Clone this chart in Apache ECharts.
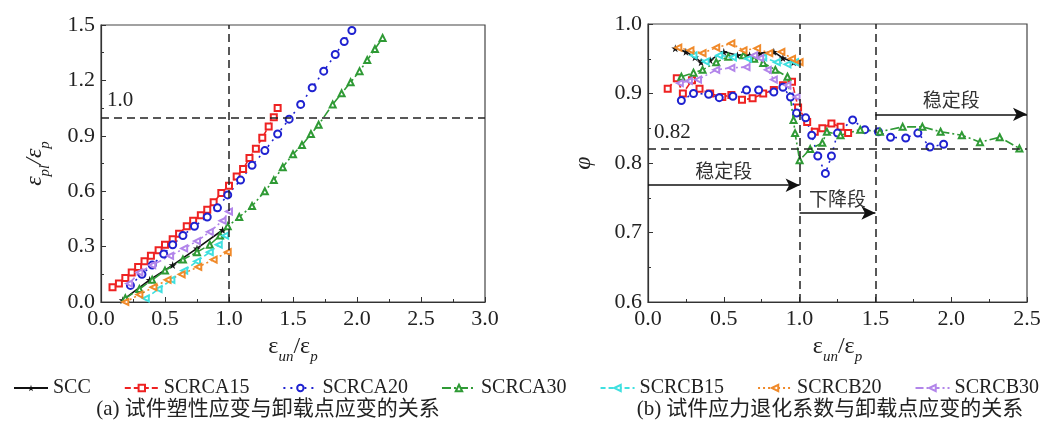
<!DOCTYPE html>
<html>
<head>
<meta charset="utf-8">
<script src="https://cdn.jsdelivr.net/npm/echarts@6/dist/echarts.min.js"></script>
<style>
  html, body { margin: 0; padding: 0; background: #fff; }
  #chart { width: 1051px; height: 430px; }
</style>
</head>
<body>
<div id="chart"></div>
<script>
// series names (legend order)
const names = ['SCC', 'SCRCA15', 'SCRCA20', 'SCRCA30', 'SCRCB15', 'SCRCB20', 'SCRCB30']

// (a) plastic strain vs unloading strain  [eun/ep, epl/ep]
const sccA = [[0.17, 0.01], [0.38, 0.12], [0.56, 0.20], [0.75, 0.29], [0.95, 0.39]]
const scrca15A = [[0.09, 0.08], [0.14, 0.10], [0.19, 0.13], [0.24, 0.16], [0.29, 0.19], [0.34, 0.22], [0.39, 0.25], [0.45, 0.28], [0.50, 0.31], [0.56, 0.34], [0.61, 0.37], [0.67, 0.41], [0.72, 0.44], [0.78, 0.47], [0.83, 0.50], [0.88, 0.54], [0.94, 0.59], [1.00, 0.63], [1.06, 0.68], [1.11, 0.72], [1.16, 0.78], [1.21, 0.83], [1.26, 0.89], [1.31, 0.95], [1.35, 1.00], [1.38, 1.05]]
const scrca20A = [[0.23, 0.09], [0.32, 0.15], [0.40, 0.20], [0.49, 0.26], [0.56, 0.31], [0.64, 0.36], [0.73, 0.41], [0.83, 0.46], [0.91, 0.51], [0.99, 0.58], [1.09, 0.66], [1.18, 0.74], [1.28, 0.82], [1.38, 0.91], [1.47, 0.99], [1.56, 1.07], [1.65, 1.16], [1.74, 1.25], [1.83, 1.34], [1.90, 1.41], [1.96, 1.47]]
const scrca30A = [[0.19, 0.02], [0.30, 0.07], [0.40, 0.12], [0.50, 0.17], [0.64, 0.23], [0.75, 0.27], [0.85, 0.31], [0.93, 0.36], [0.99, 0.41], [1.08, 0.46], [1.18, 0.52], [1.28, 0.60], [1.35, 0.66], [1.42, 0.73], [1.50, 0.80], [1.57, 0.85], [1.64, 0.91], [1.70, 0.96], [1.81, 1.07], [1.88, 1.13], [1.95, 1.19], [2.02, 1.25], [2.08, 1.31], [2.14, 1.37], [2.20, 1.43]]
const scrcb15A = [[0.35, 0.02], [0.45, 0.07], [0.55, 0.12], [0.65, 0.17], [0.75, 0.22], [0.85, 0.27], [0.92, 0.31], [0.97, 0.36]]
const scrcb20A = [[0.19, 0.00], [0.30, 0.04], [0.41, 0.08], [0.52, 0.12], [0.63, 0.15], [0.76, 0.19], [0.88, 0.23], [0.99, 0.27]]
const scrcb30A = [[0.22, 0.10], [0.30, 0.16], [0.40, 0.20], [0.54, 0.25], [0.65, 0.29], [0.75, 0.33], [0.85, 0.38], [0.95, 0.44], [1.00, 0.49]]

// (b) stress degradation coefficient vs unloading strain  [eun/ep, phi]
const sccB = [[0.18, 0.965], [0.25, 0.960], [0.31, 0.952], [0.35, 0.945], [0.41, 0.948], [0.50, 0.960], [0.59, 0.955], [0.67, 0.955], [0.74, 0.958], [0.83, 0.960], [0.89, 0.951], [0.96, 0.945]]
const scrca15B = [[0.13, 0.907], [0.19, 0.922], [0.23, 0.900], [0.29, 0.919], [0.34, 0.907], [0.41, 0.900], [0.49, 0.895], [0.55, 0.898], [0.62, 0.891], [0.69, 0.893], [0.76, 0.900], [0.83, 0.905], [0.89, 0.912], [0.95, 0.917], [0.99, 0.880], [1.05, 0.859], [1.10, 0.845], [1.15, 0.850], [1.21, 0.857], [1.27, 0.852], [1.32, 0.843]]
const scrca20B = [[0.22, 0.890], [0.30, 0.900], [0.40, 0.899], [0.47, 0.894], [0.56, 0.896], [0.65, 0.905], [0.73, 0.905], [0.83, 0.902], [0.89, 0.909], [0.94, 0.895], [0.98, 0.872], [1.04, 0.865], [1.08, 0.840], [1.12, 0.810], [1.17, 0.785], [1.21, 0.810], [1.25, 0.843], [1.35, 0.862], [1.43, 0.848], [1.52, 0.845], [1.60, 0.837], [1.70, 0.836], [1.78, 0.843], [1.86, 0.823], [1.95, 0.827]]
const scrca30B = [[0.22, 0.924], [0.30, 0.930], [0.36, 0.934], [0.45, 0.945], [0.53, 0.953], [0.63, 0.955], [0.70, 0.950], [0.76, 0.944], [0.84, 0.934], [0.92, 0.924], [0.96, 0.862], [0.97, 0.843], [1.00, 0.804], [1.07, 0.820], [1.15, 0.829], [1.18, 0.845], [1.27, 0.840], [1.40, 0.848], [1.53, 0.845], [1.68, 0.852], [1.81, 0.852], [1.93, 0.845], [2.07, 0.840], [2.19, 0.830], [2.32, 0.837], [2.45, 0.821]]
const scrcb15B = [[0.30, 0.955], [0.38, 0.946], [0.47, 0.955], [0.56, 0.952], [0.66, 0.950], [0.76, 0.952], [0.85, 0.945], [0.92, 0.942], [0.97, 0.945]]
const scrcb20B = [[0.20, 0.966], [0.28, 0.962], [0.36, 0.958], [0.45, 0.966], [0.55, 0.972], [0.63, 0.962], [0.72, 0.965], [0.80, 0.958], [0.88, 0.960], [0.95, 0.950], [1.00, 0.945]]
const scrcb30B = [[0.21, 0.915], [0.27, 0.918], [0.33, 0.920], [0.45, 0.934], [0.55, 0.937], [0.65, 0.938], [0.70, 0.955], [0.74, 0.951], [0.79, 0.934], [0.83, 0.920], [0.92, 0.912], [0.98, 0.895]]

const dataA = [sccA, scrca15A, scrca20A, scrca30A, scrcb15A, scrcb20A, scrcb30A]
const dataB = [sccB, scrca15B, scrca20B, scrca30B, scrcb15B, scrcb20B, scrcb30B]

const serif = 'Liberation Serif'
const cjk = 'Noto Sans CJK SC'
const star = 'path://M50,0 L61,35 L98,35 L68,57 L79,91 L50,70 L21,91 L32,57 L2,35 L39,35 Z'

// line / marker look per series
const looks = [
  { color: '#111111', type: 'solid', symbol: star, size: 8, rotate: 0 },
  { color: '#ee2222', type: [6, 3], symbol: 'emptyRect', size: 6, rotate: 0 },
  { color: '#1f22d0', type: [2, 5], symbol: 'emptyCircle', size: 7, rotate: 0 },
  { color: '#2f9a35', type: [9, 3, 2, 3], symbol: 'emptyTriangle', size: 6, rotate: 0 },
  { color: '#3fe0e0', type: [5, 3], symbol: 'emptyTriangle', size: 6, rotate: 90 },
  { color: '#f08a2a', type: [2, 3], symbol: 'emptyTriangle', size: 6, rotate: 90 },
  { color: '#b285ea', type: [8, 3, 2, 3], symbol: 'emptyTriangle', size: 6, rotate: 90 }
]

function makeSeries(name, data, idx, look) {
  return {
    name: name,
    type: 'line',
    xAxisIndex: idx,
    yAxisIndex: idx,
    data: data,
    symbol: look.symbol,
    symbolSize: look.size,
    symbolRotate: look.rotate,
    showAllSymbol: true,
    animation: false,
    lineStyle: { color: look.color, width: 1.6, type: look.type },
    itemStyle: { color: look.color, borderWidth: 1.3 },
    z: 3
  }
}

const series = []
names.forEach(function(n, i) {
  series.push(makeSeries(n, dataA[i], 0, looks[i]))
  series.push(makeSeries(n, dataB[i], 1, looks[i]))
})

const dash = { color: '#222', type: [8, 5], width: 1.5 }
const refLabel = { show: true, fontFamily: serif, fontSize: 21, color: '#222', position: 'insideStartTop', distance: 6 }

// dashed guide lines (a)
series.push({
  name: 'refA', type: 'line', xAxisIndex: 0, yAxisIndex: 0, data: [], animation: false,
  markLine: {
    silent: true, symbol: ['none', 'none'], lineStyle: dash, label: { show: false },
    data: [
      [{ coord: [0, 1.0], label: Object.assign({}, refLabel, { formatter: '1.0' }) }, { coord: [3, 1.0] }],
      [{ coord: [1, 0] }, { coord: [1, 1.5] }]
    ]
  }
})
// dashed guide lines (b)
series.push({
  name: 'refB', type: 'line', xAxisIndex: 1, yAxisIndex: 1, data: [], animation: false,
  markLine: {
    silent: true, symbol: ['none', 'none'], lineStyle: dash, label: { show: false },
    data: [
      [{ coord: [0, 0.82], label: Object.assign({}, refLabel, { formatter: '0.82' }) }, { coord: [2.5, 0.82] }],
      [{ coord: [1, 0.6] }, { coord: [1, 1.0] }],
      [{ coord: [1.5, 0.6] }, { coord: [1.5, 1.0] }]
    ]
  }
})
// stage arrows (b)
const stageLabel = { show: true, fontFamily: cjk, fontSize: 19, color: '#333', position: 'insideMiddleTop', distance: 5 }
series.push({
  name: 'stageB', type: 'line', xAxisIndex: 1, yAxisIndex: 1, data: [], animation: false,
  markLine: {
    silent: true, symbol: ['none', 'arrow'], symbolSize: [10, 14],
    lineStyle: { color: '#111', type: 'solid', width: 1.5 },
    data: [
      [{ coord: [0, 0.768], label: Object.assign({}, stageLabel, { formatter: '稳定段' }) }, { coord: [1, 0.768] }],
      [{ coord: [1, 0.728], label: Object.assign({}, stageLabel, { formatter: '下降段' }) }, { coord: [1.5, 0.728] }],
      [{ coord: [1.5, 0.87], label: Object.assign({}, stageLabel, { formatter: '稳定段' }) }, { coord: [2.5, 0.87] }]
    ]
  }
})

const tickLabel = { fontFamily: serif, fontSize: 22, color: '#222', margin: 6 }
const axisLine = { show: true, lineStyle: { color: '#333', width: 1.2 } }
const axisTick = { show: true, inside: true, length: 5, lineStyle: { color: '#333' } }
const minorTick = { show: true, splitNumber: 2, length: 3, lineStyle: { color: '#333' } }
const nameRich = {
  e: { fontFamily: serif, fontSize: 24, color: '#222', padding: [0, 0, 6, 0], verticalAlign: 'bottom' },
  ei: { fontFamily: serif, fontSize: 24, fontStyle: 'italic', color: '#222', padding: [0, 0, 6, 0], verticalAlign: 'bottom' },
  s: { fontFamily: serif, fontSize: 15, fontStyle: 'italic', color: '#222', verticalAlign: 'bottom' }
}

function xAxisOf(idx, max, name) {
  return {
    type: 'value', gridIndex: idx, min: 0, max: max, interval: 0.5,
    name: name, nameLocation: 'middle', nameGap: 28,
    nameTextStyle: { rich: nameRich },
    axisLine: axisLine, axisTick: axisTick, minorTick: minorTick,
    axisLabel: Object.assign({}, tickLabel, { formatter: function(v) { return v.toFixed(1) } }),
    splitLine: { show: false }
  }
}

const option = {
  backgroundColor: '#fff',
  animation: false,
  grid: [
    { left: 101, top: 25, width: 384, height: 277, show: true, borderColor: '#444', borderWidth: 1.2 },
    { left: 648, top: 24, width: 379, height: 278, show: true, borderColor: '#444', borderWidth: 1.2 }
  ],
  xAxis: [
    xAxisOf(0, 3, '{e|ε}{s|un}{e|/ε}{s|p}'),
    xAxisOf(1, 2.5, '{e|ε}{s|un}{e|/ε}{s|p}')
  ],
  yAxis: [
    {
      type: 'value', gridIndex: 0, min: 0, max: 1.5, interval: 0.3,
      name: '{ei|ε}{s|pl}{ei|/ε}{s|p}', nameLocation: 'middle', nameGap: 48, nameRotate: 90,
      nameTextStyle: { rich: nameRich },
      axisLine: axisLine, axisTick: axisTick, minorTick: minorTick,
      axisLabel: Object.assign({}, tickLabel, { formatter: function(v) { return v.toFixed(1) } }),
      splitLine: { show: false }
    },
    {
      type: 'value', gridIndex: 1, min: 0.6, max: 1.0, interval: 0.1,
      name: 'φ', nameLocation: 'middle', nameGap: 52, nameRotate: 90,
      nameTextStyle: { fontFamily: serif, fontSize: 24, fontStyle: 'italic', color: '#222' },
      axisLine: axisLine, axisTick: axisTick, minorTick: minorTick,
      axisLabel: Object.assign({}, tickLabel, { formatter: function(v) { return v.toFixed(1) } }),
      splitLine: { show: false }
    }
  ],
  legend: {
    data: names,
    left: 8, top: 373, width: 1045,
    itemWidth: 34, itemHeight: 8, itemGap: 33,
    textStyle: { fontFamily: serif, fontSize: 20, color: '#222' }
  },
  graphic: [
    { type: 'text', x: 268, y: 399, style: { text: '(a) 试件塑性应变与卸载点应变的关系', font: '21px "Liberation Serif", "Noto Sans CJK SC"', fill: '#222', textAlign: 'center' } },
    { type: 'text', x: 830, y: 399, style: { text: '(b) 试件应力退化系数与卸载点应变的关系', font: '21px "Liberation Serif", "Noto Sans CJK SC"', fill: '#222', textAlign: 'center' } }
  ],
  series: series
}

const myChart = echarts.init(document.getElementById('chart'))
myChart.setOption(option)
window.addEventListener('resize', function() {
  myChart.resize()
})
</script>
</body>
</html>
